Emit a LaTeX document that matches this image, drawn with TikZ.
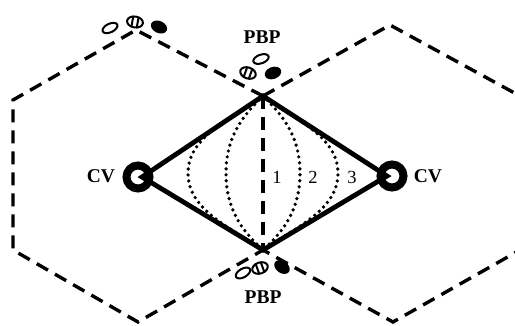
\documentclass[tikz,border=0pt]{standalone}
\usepackage{fontspec}
\setmainfont{Liberation Serif}
\begin{document}
\begin{tikzpicture}[x=1pt,y=-1pt,
  hexedge/.style={line width=3.4pt, dash pattern=on 13pt off 8pt},
  rim/.style={line width=4.8pt, line join=miter},
  lens/.style={line width=3.7pt, line cap=round, dash pattern=on 0pt off 6pt},
  cvring/.style={circle, draw, line width=8pt, minimum size=23pt, inner sep=0pt},
  lbl/.style={font=\bfseries\fontsize{19.5}{19.5}\selectfont, inner sep=0pt},
  num/.style={font=\fontsize{18.5}{18.5}\selectfont, inner sep=0pt},
  cell/.style={line width=2pt},
  opencell/.pic={\draw[cell] (0,0) ellipse [x radius=8pt, y radius=4.3pt];},
  fillcell/.pic={\fill (0,0) ellipse [x radius=8.5pt, y radius=6pt];},
  hatchcell/.pic={
    \draw[cell] (0,0) ellipse [x radius=8pt, y radius=5.5pt];
    \begin{scope}
      \clip (0,0) ellipse [x radius=8pt, y radius=5.5pt];
      \draw[cell] (-2.7pt,-7pt) -- (-2.7pt,7pt) (2.7pt,-7pt) -- (2.7pt,7pt);
    \end{scope}
  },
]
\useasboundingbox (0,0) rectangle (515,325);
\clip (0,0) rectangle (515,325);

% shared apexes of the two hexagonal cells
\coordinate (T) at (263,96);
\coordinate (B) at (263,250);

% left hexagon
\coordinate (L1) at (136,30);
\coordinate (L2) at (13,100);
\coordinate (L3) at (13,250);
\coordinate (L4) at (138,322);
% right hexagon
\coordinate (R1) at (390,25);
\coordinate (R2) at (520,96);
\coordinate (R3) at (520,250);
\coordinate (R4) at (393,322);

\draw[hexedge] (T) -- (L1) -- (L2) -- (L3) -- (L4) -- (B);
\draw[hexedge] (T) -- (R1) -- (R2) -- (R3) -- (R4) -- (B);
\draw[hexedge] (T) -- (B);

% dotted lobule boundaries
\draw[lens] (T) .. controls (279,112) and (300,133) .. (300,173)
                .. controls (300,214) and (279,235) .. (B);
\draw[lens] (T) .. controls (247,112) and (226,133) .. (226,173)
                .. controls (226,214) and (247,235) .. (B);
\draw[lens] (T) .. controls (291,118) and (338,135) .. (338,173)
                .. controls (338,212) and (291,229) .. (B);
\draw[lens] (T) .. controls (235,118) and (188,135) .. (188,173)
                .. controls (188,212) and (235,229) .. (B);

% central veins and the rhombus joining them
\coordinate (vL) at (142,177);
\coordinate (vR) at (387,176);
\draw[rim] (T) -- (vL) -- (B) -- (vR) -- cycle;
\node[cvring] (cvL) at (138,177) {};
\node[cvring] (cvR) at (392,176) {};

% portal triads
\pic[rotate=25] at (110,28) {opencell};
\pic[rotate=-10] at (135,22) {hatchcell};
\pic[rotate=-25] at (159,27) {fillcell};

\pic[rotate=20] at (261,59) {opencell};
\pic[rotate=-20] at (248,73) {hatchcell};
\pic[rotate=20] at (273,73) {fillcell};

\pic[rotate=30] at (243,273) {opencell};
\pic[rotate=20] at (260,268) {hatchcell};
\pic[rotate=-35] at (282,267) {fillcell};

% labels
\node[lbl] (pbpT) at (262,37) {PBP};
\node[lbl] (pbpB) at (263,297) {PBP};
\node[lbl] (cvLt) at (101,176) {CV};
\node[lbl] (cvRt) at (428,176) {CV};
\node[num] (n1) at (277,177) {1};
\node[num] (n2) at (313,177) {2};
\node[num] (n3) at (352,177) {3};
\end{tikzpicture}
\end{document}
